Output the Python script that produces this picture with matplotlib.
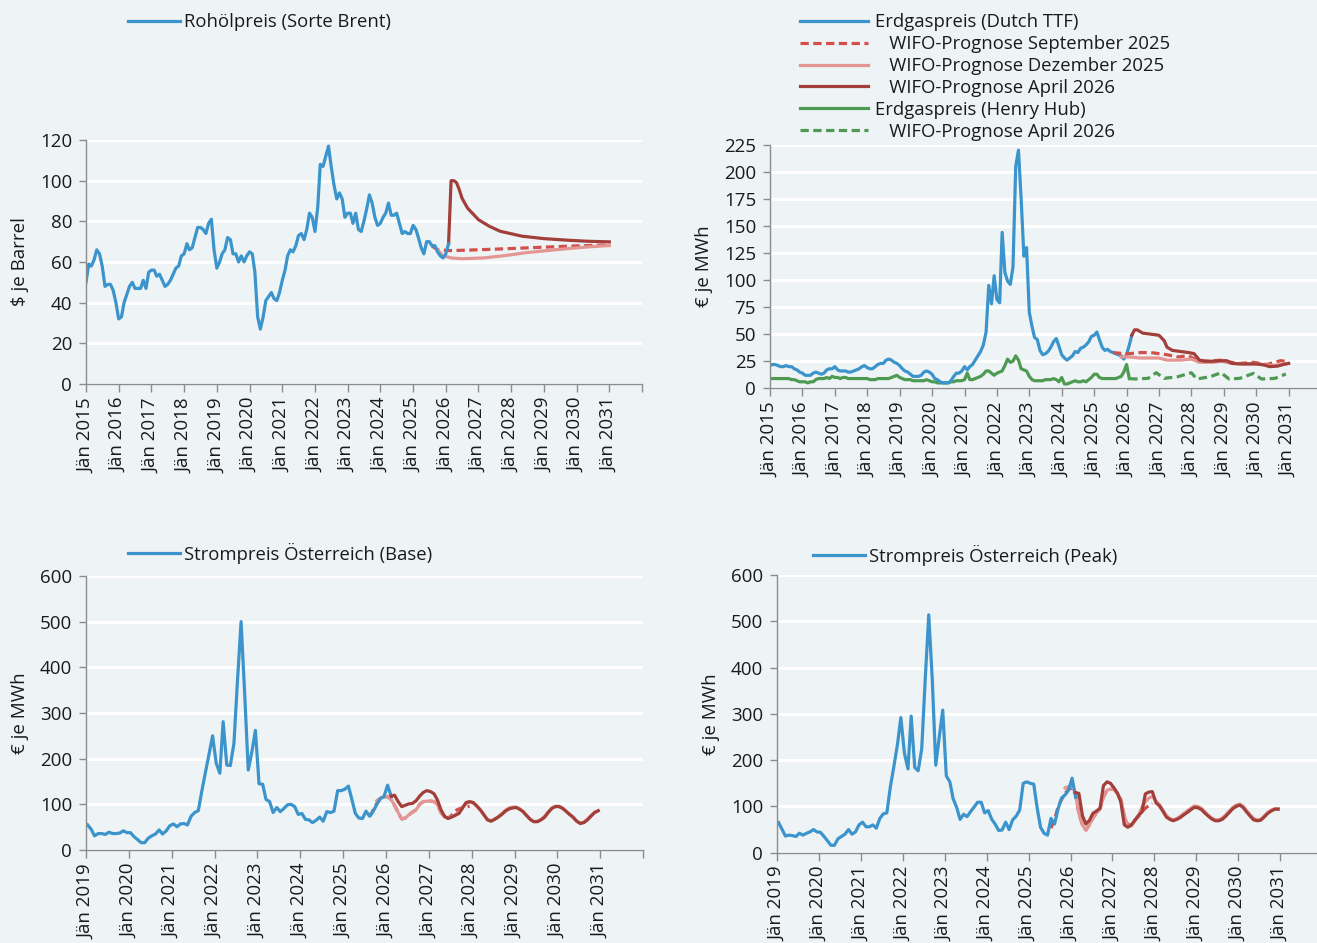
import pandas as pd
import matplotlib
matplotlib.use('Agg')
import matplotlib.pyplot as plt
from matplotlib.lines import Line2D

plt.rcParams['font.family'] = ['Open Sans', 'DejaVu Sans']
plt.rcParams['font.size'] = 13

# ---- Daten ----------------------------------------------------------------
# Rohölpreis Brent, $ je Barrel, monatlich ab Jän 2015
brent = [50, 59, 58, 61, 66, 64, 58, 48, 49, 49, 46, 40,
         32, 33, 40, 44, 48, 50, 47, 47, 47, 51, 47, 55,
         56, 56, 53, 54, 51, 48, 49, 51, 54, 57, 58, 63,
         64, 69, 66, 67, 72, 77, 77, 76, 74, 79, 81, 66,
         57, 60, 64, 66, 72, 71, 64, 64, 60, 63, 60, 63,
         65, 64, 55, 33, 27, 33, 41, 43, 45, 42, 41, 45,
         51, 56, 63, 66, 65, 68, 73, 74, 71, 76, 84, 82,
         75, 87, 108, 107, 112, 117, 107, 98, 91, 94, 91, 82,
         84, 84, 79, 84, 76, 75, 80, 86, 93, 89, 82, 78,
         79, 82, 84, 89, 83, 83, 84, 79, 74, 75, 74, 74,
         78, 76, 72, 67, 64, 70, 70, 68, 68, 65, 63, 62,
         64, 69]
brent_sep_dates = ['2025-08', '2025-10', '2026-03', '2027-03', '2028-06', '2029-10', '2031-01']
brent_sep = [67.8, 66, 65.6, 66.1, 66.9, 67.8, 68.4]
brent_dez_dates = ['2025-10', '2025-12', '2026-03', '2026-07', '2027-03', '2027-11', '2028-06',
                   '2029-02', '2029-10', '2030-05', '2031-01']
brent_dez = [66, 63, 62, 61.6, 62, 63.2, 64.5, 65.6, 66.6, 67.4, 68.1]
brent_apr_dates = ['2026-02', '2026-03', '2026-04', '2026-05', '2026-06', '2026-07', '2026-09',
                   '2027-01', '2027-05', '2027-09', '2028-05', '2029-01', '2029-10', '2030-05', '2031-01']
brent_apr = [69, 100, 100, 99, 95.5, 91.4, 86.5, 80.8, 77.6, 75.1, 72.7, 71.5, 70.7, 70.2, 69.9]

# Erdgaspreis Dutch TTF, € je MWh, monatlich ab Jän 2015
ttf = [21, 22, 22, 21, 20, 20, 21, 20, 20, 18, 17, 15,
       14, 12, 12, 12, 14, 15, 14, 13, 14, 17, 18, 18,
       20, 17, 16, 16, 16, 15, 15, 16, 17, 18, 20, 21,
       19, 18, 18, 20, 22, 23, 23, 26, 27, 26, 24, 23,
       21, 18, 16, 15, 13, 11, 11, 11, 12, 15, 16, 15,
       13, 9, 8, 6, 5, 5, 5, 7, 11, 14, 14, 16,
       20, 17, 20, 22, 26, 30, 34, 40, 52, 95, 78, 104,
       82, 79, 144, 107, 99, 96, 112, 205, 220, 175, 122, 130,
       70, 57, 47, 45, 35, 31, 32, 34, 38, 43, 46, 39,
       31, 28, 26, 28, 30, 34, 33, 37, 38, 40, 43, 48,
       49, 52, 45, 38, 35, 36, 34, 33, 32, 31, 30, 27,
       31, 40, 49]
ttf_sep_dates = ['2025-08', '2025-12', '2026-02', '2026-06', '2026-10', '2027-01', '2027-04', '2027-08',
                 '2027-12', '2028-03', '2028-07', '2028-12', '2029-04', '2029-07', '2029-12', '2030-05',
                 '2030-10', '2030-12']
ttf_sep = [33, 32, 32, 33, 33, 32, 31, 29, 30, 26, 25, 26, 24, 23, 24, 22, 25.5, 25]
ttf_dez_dates = ['2025-11', '2026-02', '2026-06', '2026-10', '2027-01', '2027-04', '2027-09', '2028-01',
                 '2028-04', '2028-09', '2028-12', '2029-04', '2029-09', '2030-02', '2030-07', '2030-11',
                 '2031-01']
ttf_dez = [29, 29, 28, 28, 28, 26, 26, 27, 24, 24, 25, 23, 22.5, 22.5, 21, 22, 23]
ttf_apr_dates = ['2026-03', '2026-04', '2026-05', '2026-07', '2026-10', '2027-01', '2027-03', '2027-04',
                 '2027-06', '2027-09', '2027-12', '2028-02', '2028-04', '2028-06', '2028-09', '2028-12',
                 '2029-02', '2029-04', '2029-07', '2029-11', '2030-01', '2030-04', '2030-06', '2030-09',
                 '2030-11', '2031-01']
ttf_apr = [49, 54, 54, 51, 50, 49, 44, 38, 35, 34, 33, 32, 26, 25, 25, 25.5, 25.5, 23, 22.5, 22.5,
           22.5, 21.5, 20, 20.5, 22, 23]

# Erdgaspreis Henry Hub, € je MWh, monatlich ab Jän 2015
henry = [9, 9, 9, 9, 9, 9, 9, 9, 8, 8, 7, 6,
         6, 6, 5, 6, 6, 8, 9, 9, 9, 10, 9, 11,
         10, 10, 9, 10, 10, 9, 9, 9, 9, 9, 9, 9,
         9, 8, 8, 8, 9, 9, 9, 9, 9, 10, 11, 12,
         10, 9, 8, 8, 8, 7, 7, 7, 7, 7, 8, 7,
         6, 6, 5, 5, 5, 5, 5, 6, 6, 7, 7, 7,
         8, 14, 8, 8, 9, 10, 11, 13, 16, 16, 14, 12,
         14, 15, 16, 21, 27, 24, 25, 30, 26, 18, 17, 16,
         11, 8, 7, 7, 7, 7, 8, 8, 8, 9, 8, 6,
         10, 4, 4, 5, 6, 7, 6, 6, 7, 6, 8, 10,
         13, 13, 10, 9, 9, 9, 9, 9, 9, 10, 11, 15,
         22, 9]
henry_apr_dates = ['2026-02', '2026-04', '2026-09', '2026-12', '2027-03', '2027-08', '2028-01', '2028-03',
                   '2028-08', '2028-12', '2029-03', '2029-07', '2029-12', '2030-03', '2030-08', '2030-12']
henry_apr = [9, 8.6, 9.2, 14.4, 9.2, 10.7, 14.4, 8.6, 10.7, 14.4, 8.6, 9.2, 13.8, 8.6, 9.2, 13.2]

# Strompreis Österreich (Base), € je MWh, monatlich ab Jän 2019
base = [55, 45, 31, 36, 36, 34, 39, 36, 36, 37, 42, 38,
        38, 29, 23, 16, 16, 26, 31, 35, 44, 35, 42, 53,
        57, 51, 57, 58, 55, 74, 82, 86, 130, 170, 210, 250,
        190, 168, 281, 186, 185, 233, 370, 500, 340, 175, 215, 262,
        145, 144, 111, 106, 82, 93, 84, 91, 99, 100, 95, 78,
        80, 67, 66, 60, 65, 72, 63, 84, 82, 85, 130, 130,
        133, 140, 112, 80, 70, 69, 85, 74, 85, 100, 113, 117,
        142, 117]
base_sep_start = '2025-08'
base_sep = [73, 88, 102, 112, 116, 117, 110, 98, 82, 68, 70, 77, 83, 88, 100, 106, 107, 107, 106, 100,
            82, 72, 70, 76, 86, 90, 92, 94, 96]
base_dez_start = '2025-10'
base_dez = [108, 114, 116, 117, 110, 98, 82, 68, 70, 77, 83, 88, 100, 106, 107, 107, 106, 100, 82, 72,
            70, 73, 77, 82, 92, 102, 105, 103, 96, 88, 77, 67, 64, 68, 73, 80, 87, 92, 94, 94,
            90, 84, 75, 67, 62, 63, 67, 74, 84, 92, 96, 96, 92, 85, 78, 71, 63, 59, 61, 68,
            76, 83, 86]
base_apr_start = '2026-02'
base_apr = [118, 120, 106, 95, 98, 101, 102, 108, 118, 126, 130, 128, 123, 110, 88, 74, 69, 72, 76, 80,
            92, 104, 106, 104, 96, 88, 77, 66, 63, 67, 72, 78, 85, 90, 92, 93, 89, 84, 75, 67,
            62, 62, 66, 72, 82, 91, 95, 95, 91, 85, 78, 72, 63, 58, 60, 66, 74, 82, 86]

# Strompreis Österreich (Peak), € je MWh, monatlich ab Jän 2019
peak = [65, 50, 36, 38, 37, 35, 42, 38, 42, 45, 50, 45,
        44, 35, 26, 16, 16, 30, 35, 40, 50, 40, 45, 60,
        66, 56, 56, 60, 53, 74, 84, 86, 143, 186, 233, 292,
        215, 181, 295, 184, 177, 225, 373, 514, 373, 189, 251, 308,
        166, 153, 117, 98, 72, 83, 78, 89, 99, 109, 109, 86,
        91, 72, 62, 48, 49, 66, 50, 71, 79, 92, 150, 153,
        150, 148, 99, 55, 42, 38, 74, 62, 95, 118, 125, 135,
        161, 120]
peak_sep_start = '2025-07'
peak_sep = [53, 72, 99, 115, 128, 137, 140, 125, 85, 60, 49, 60, 75, 85, 95, 120, 135, 137, 137, 128,
            115, 80, 58, 65, 70, 78, 88, 96, 102, 107]
peak_dez_start = '2025-11'
peak_dez = [140, 143, 146, 125, 85, 60, 49, 60, 75, 85, 95, 120, 135, 137, 137, 128, 115, 80, 58, 58,
            68, 80, 98, 110, 118, 122, 112, 104, 93, 80, 74, 71, 74, 79, 85, 91, 96, 101, 100, 96,
            89, 81, 75, 71, 71, 75, 82, 90, 98, 103, 105, 100, 91, 82, 74, 71, 72, 79, 87, 92,
            95, 95]
peak_apr_start = '2026-02'
peak_apr = [130, 128, 80, 62, 70, 85, 90, 96, 145, 153, 150, 140, 128, 110, 60, 55, 60, 70, 80, 88,
            127, 131, 132, 108, 101, 90, 77, 72, 69, 72, 76, 82, 87, 93, 98, 97, 93, 86, 79, 73,
            69, 69, 72, 79, 87, 95, 100, 103, 97, 88, 79, 71, 69, 70, 77, 85, 90, 94, 94]

# ---- Layout / Stil ----------------------------------------------------------
W, H = 1317, 943
BG = '#eef4f5'
BLUE = '#3b94cc'
RED_DASH = '#d2504b'
PINK = '#e39693'
DARK = '#a33f3b'
GREEN = '#4f9a52'
SPINE = '#8c8c8c'
TXT = '#1a1a1a'
LW = 2.3
DASH = (0, (2.6, 1.4))
FS_TICK = 13.5
FS_LEG = 13.3


def monthly(start, values, mid=False):
    d = pd.date_range(start, periods=len(values), freq='MS')
    if mid:
        d = d + pd.Timedelta(days=14)
    return d


def dates(lst, mid=False):
    d = pd.to_datetime(lst)
    if mid:
        d = d + pd.Timedelta(days=14)
    return d


fig = plt.figure(figsize=(W / 100, H / 100), dpi=100)
fig.patch.set_facecolor(BG)


def px_axes(left, right, top, bottom):
    return fig.add_axes([left / W, 1 - bottom / H, (right - left) / W, (bottom - top) / H])


def style(ax, ymax, ystep, first_year, ylabel, label_x):
    ax.set_facecolor(BG)
    for s in ['top', 'right']:
        ax.spines[s].set_visible(False)
    for s in ['left', 'bottom']:
        ax.spines[s].set_color(SPINE)
        ax.spines[s].set_linewidth(1)
    ax.set_ylim(0, ymax)
    ax.set_yticks(range(0, ymax + 1, ystep))
    ax.yaxis.grid(True, color='white', lw=2.2)
    ax.set_axisbelow(True)
    ticks = pd.date_range(f'{first_year}-01-01', '2032-01-01', freq='YS')
    ax.set_xlim(ticks[0], ticks[-1])
    ax.set_xticks(ticks)
    ax.set_xticklabels([f'Jän {t.year}' for t in ticks[:-1]] + [''], rotation=90,
                       ha='center', va='top')
    ax.tick_params(axis='x', length=6, width=1, color=SPINE, pad=4, labelsize=FS_TICK, labelcolor=TXT)
    ax.tick_params(axis='y', length=5, width=1, color=SPINE, pad=5, labelsize=FS_TICK, labelcolor=TXT)
    ax.set_ylabel(ylabel, fontsize=FS_TICK, color=TXT)
    ax.yaxis.set_label_coords(label_x, 0.5)


def legend(handles, labels, x, y, hl, pad):
    fig.legend(handles, labels, loc='center left', bbox_to_anchor=(x / W, 1 - y / H),
               frameon=False, borderpad=0, borderaxespad=0, handlelength=hl,
               handletextpad=pad, labelspacing=0.21, fontsize=FS_LEG, labelcolor=TXT)


# 1) Rohöl
ax = px_axes(86, 642, 140, 384)
style(ax, 120, 20, 2015, '$ je Barrel', -0.102)
ax.plot(dates(brent_sep_dates), brent_sep, color=RED_DASH, lw=LW, ls=DASH)
ax.plot(dates(brent_dez_dates), brent_dez, color=PINK, lw=LW)
ax.plot(dates(brent_apr_dates), brent_apr, color=DARK, lw=LW)
ax.plot(monthly('2015-01-01', brent), brent, color=BLUE, lw=LW)
legend([Line2D([], [], color=BLUE, lw=LW)], ['Rohölpreis (Sorte Brent)'], 128, 22, 2.8, 0.25)

# 2) Erdgas
ax = px_axes(770, 1321, 144.7, 388.3)
style(ax, 225, 25, 2015, '€ je MWh', -0.104)
ax.plot(monthly('2015-01-01', henry), henry, color=GREEN, lw=LW)
ax.plot(dates(henry_apr_dates), henry_apr, color=GREEN, lw=LW, ls=DASH)
ax.plot(monthly('2015-01-01', ttf), ttf, color=BLUE, lw=LW)
ax.plot(dates(ttf_sep_dates), ttf_sep, color=RED_DASH, lw=LW, ls=DASH)
ax.plot(dates(ttf_dez_dates), ttf_dez, color=PINK, lw=LW)
ax.plot(dates(ttf_apr_dates), ttf_apr, color=DARK, lw=LW)
gas_handles = [Line2D([], [], color=BLUE, lw=LW),
               Line2D([], [], color=RED_DASH, lw=LW, ls=DASH),
               Line2D([], [], color=PINK, lw=LW),
               Line2D([], [], color=DARK, lw=LW),
               Line2D([], [], color=GREEN, lw=LW),
               Line2D([], [], color=GREEN, lw=LW, ls=DASH)]
gas_labels = ['Erdgaspreis (Dutch TTF)', '   WIFO-Prognose September 2025',
              '   WIFO-Prognose Dezember 2025', '   WIFO-Prognose April 2026',
              'Erdgaspreis (Henry Hub)', '   WIFO-Prognose April 2026']
legend(gas_handles, gas_labels, 800, 77, 3.7, 0.38)

# 3) Strom Base
ax = px_axes(86, 643, 576, 850)
style(ax, 600, 100, 2019, '€ je MWh', -0.102)
ax.plot(monthly(base_sep_start, base_sep, True), base_sep, color=RED_DASH, lw=LW, ls=DASH)
ax.plot(monthly(base_dez_start, base_dez, True), base_dez, color=PINK, lw=LW)
ax.plot(monthly('2019-01-01', base, True), base, color=BLUE, lw=LW)
ax.plot(monthly(base_apr_start, base_apr, True), base_apr, color=DARK, lw=LW)
legend([Line2D([], [], color=BLUE, lw=LW)], ['Strompreis Österreich (Base)'], 128, 553, 2.8, 0.25)

# 4) Strom Peak
ax = px_axes(777, 1322, 575, 852.7)
style(ax, 600, 100, 2019, '€ je MWh', -0.105)
ax.plot(monthly(peak_sep_start, peak_sep, True), peak_sep, color=RED_DASH, lw=LW, ls=DASH)
ax.plot(monthly(peak_dez_start, peak_dez, True), peak_dez, color=PINK, lw=LW)
ax.plot(monthly('2019-01-01', peak, True), peak, color=BLUE, lw=LW)
ax.plot(monthly(peak_apr_start, peak_apr, True), peak_apr, color=DARK, lw=LW)
legend([Line2D([], [], color=BLUE, lw=LW)], ['Strompreis Österreich (Peak)'], 813, 555, 2.8, 0.25)

fig.savefig('out.png', dpi=100, facecolor=BG)
